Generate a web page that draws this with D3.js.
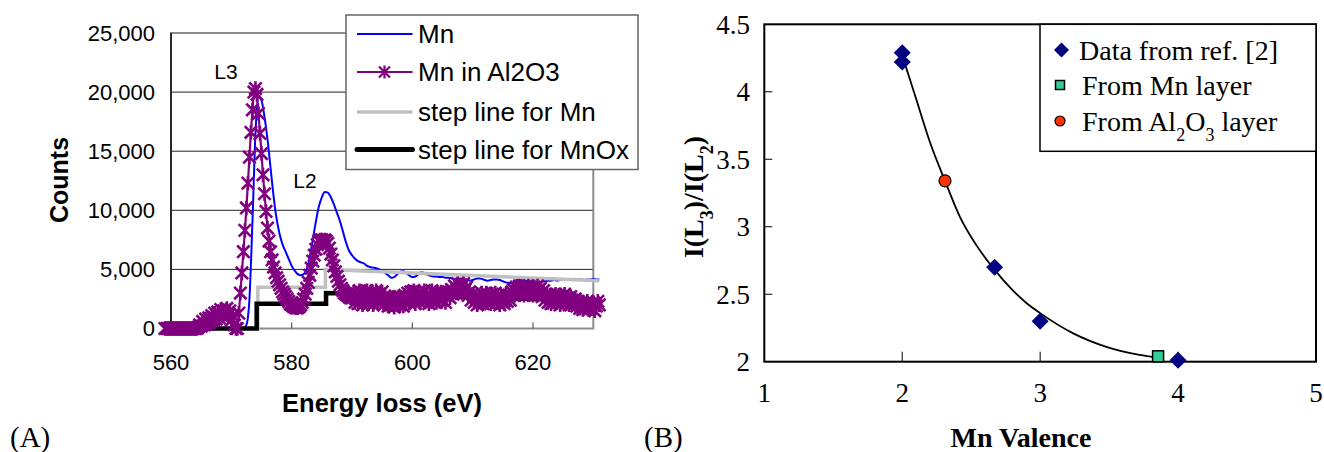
<!DOCTYPE html>
<html><head><meta charset="utf-8">
<script src="https://cdn.jsdelivr.net/npm/d3@7"></script>
<style>body{margin:0;background:#fff}svg{display:block}</style>
</head><body>
<svg id="c" width="1324" height="452"></svg>
<script>
// ---------- Panel A data ----------
const aXTicks = [560, 580, 600, 620];
const aYTicks = [0, 5000, 10000, 15000, 20000, 25000];
const mnStart = 559, mnStep = 0.5;
const mnCounts = [
 0,0, 0,0, 0,0, 0,0, 0,0, 0,0, 0,0, 0,0, 0,0, 0,0, 0,0, 0,0, 0,0,
 0,300, 2500,9000, 16500,19700, 19300,17900, 16000,13600, 11200,9300,
 8000,7100, 6500,5900, 5300,4900, 4600,4500, 4600,5000, 6000,7500,
 9000,10300, 11100,11550, 11500,11100, 10500,9800, 9100,8200, 7300,6600,
 6200,5900, 5700,5600, 5500,5300, 5200,5150, 5100,5000, 4900,4700,
 4500,4300, 4350,4600, 4800,4850, 4700,4500, 4350,4400, 4600,4750,
 4700,4550, 4450,4400, 4400,4350, 4350,4300, 4300,4250, 4200,4200,
 4150,4100, 4100,4050, 4100,4200, 4250,4200, 4100,4050, 4100,4150,
 4150,4100, 4000,3900, 3850,3800, 4000,4150, 4100,4050, 4050,4000,
 3950,3900, 3900,3950, 4000,4050, 4050,4100, 4050,4100, 4100,4150,
 4150,4150, 4200,4150, 4150,4100, 4150,4150, 4200,4150, 4150
];
const alStart = 559, alStep = 0.25;
const mnInAl2O3Counts = [
 0,0,0,0, 0,0,0,0, 0,0,0,0, 0,0,0,0, 0,0,0,0, 0,0,100,300,
 200,600,300,800, 400,900,500,1100, 700,1300,800,1400, 900,1600,1100,1500,
 1200,1700,1100,1500, 700,1100,300,0, 0,1300,3000,4700, 6500,8300,10200,12300,
 14500,16600,18500,20000, 20300,19800,18200,16500, 14800,13000,11400,9900,
 8500,7400,6500,5800, 5200,4700,4300,4000, 3700,3400,3100,2900, 2700,2500,2300,2100,
 2000,1900,1800,1750, 1750,1850,2000,2200, 2500,2900,3400,3900, 4500,5100,5700,6200,
 6700,7100,7400,7500, 7500,7400,7500,7400, 7200,6800,6300,5800, 5300,4800,4400,4000,
 3700,3400,3200,3000, 2900,2800,2700,2600,
 2600,3100,2200,2900, 2100,3200,2500,2000, 3000,2300,3200,2100, 2700,3100,2000,2800,
 3200,2200,2900,2400, 3100,2000,2700,2300, 1900,2700,2000,2600, 1800,2500,2100,2700,
 2000,2600,1900,2800, 2300,3000,2200,3100, 2400,3200,2100,2900, 3100,2200,2800,2400,
 3200,2300,2900,2100, 2800,3200,2300,3000, 2200,2900,2500,3100, 2400,3000,2200,2800,
 3100,2600,3300,2900, 3600,3000,3800,3200, 3700,3100,3800,3300, 3500,2800,3100,2400,
 2900,2200,2700,2000, 2800,2300,3000,2100, 2600,3000,2200,2800, 2100,2900,2400,3000,
 2200,2800,2000,2700, 2500,2100,2900,2300, 2800,2400,3100,3300, 2800,3500,3000,3600,
 3100,3500,2800,3400, 3000,3600,2900,3400, 2800,3500,3100,3600, 3000,3400,2700,3200,
 2400,2900,2200,2800, 2100,2700,2300,2900, 2200,2800,2000,2700, 2300,2900,2100,2600,
 2000,2700,2400,2100, 2500,1900,2300,1700, 2200,1600,2100,1800, 2300,1600,2000,1700,
 2200,1500,1900,2300, 2000
];
const stepMnE = [559, 574.4, 574.4, 585.6, 585.6, 631];
const stepMnV = [0, 0, 3500, 3500, 5000, 4050];
const stepMnOxE = [559, 574.2, 574.2, 585.7, 585.7, 631];
const stepMnOxV = [0, 0, 2100, 2100, 3000, 2350];
const aLegend = ["Mn", "Mn in Al2O3", "step line for Mn", "step line for MnOx"];

// ---------- Panel B data ----------
const bXTicks = [1, 2, 3, 4, 5];
const bYTicks = [2, 2.5, 3, 3.5, 4, 4.5];
const refValence = [2, 2, 2.67, 3, 4];
const refRatio = [4.29, 4.22, 2.70, 2.30, 2.01];
const mnLayerValence = [3.855];
const mnLayerRatio = [2.04];
const alLayerValence = [2.31];
const alLayerRatio = [3.34];
const fitValence = [2.0, 2.1, 2.2, 2.31, 2.42, 2.54, 2.67, 2.8, 2.9, 3.0, 3.24, 3.48, 3.72, 3.855];
const fitRatio = [4.27, 3.95, 3.63, 3.34, 3.07, 2.86, 2.68, 2.53, 2.435, 2.36, 2.21, 2.11, 2.05, 2.03];

const svg = d3.select("#c");
const SANS = "'Liberation Sans', Arial, sans-serif";
const SERIF = "'Liberation Serif', 'Times New Roman', serif";

// ================= Panel A =================
const xA = d3.scaleLinear().domain([560, 630]).range([171, 593.3]);
const yA = d3.scaleLinear().domain([0, 25000]).range([328.5, 33]);
const gA = svg.append("g");

gA.selectAll("line.grid").data(aYTicks.filter(d => d > 0 && d < 25000)).join("line")
  .attr("x1", xA(560)).attr("x2", xA(630)).attr("y1", d => yA(d)).attr("y2", d => yA(d))
  .attr("stroke", "#222").attr("stroke-width", 1);
gA.append("rect").attr("x", xA(560)).attr("y", yA(25000)).attr("width", xA(630) - xA(560))
  .attr("height", yA(0) - yA(25000)).attr("fill", "none").attr("stroke", "#8c8c8c").attr("stroke-width", 2);
gA.append("line").attr("x1", xA(560)).attr("x2", xA(560)).attr("y1", yA(0)).attr("y2", yA(25000))
  .attr("stroke", "#111").attr("stroke-width", 1.6);
gA.selectAll("line.xt").data(aXTicks.slice(1)).join("line")
  .attr("x1", d => xA(d)).attr("x2", d => xA(d)).attr("y1", yA(0)).attr("y2", yA(0) - 6)
  .attr("stroke", "#555").attr("stroke-width", 1.2);
gA.selectAll("text.yl").data(aYTicks).join("text")
  .attr("x", 155).attr("y", d => yA(d)).attr("dy", "0.35em").attr("text-anchor", "end")
  .attr("font-family", SANS).attr("font-size", 22).text(d3.format(","));
gA.selectAll("text.xl").data(aXTicks).join("text")
  .attr("x", d => xA(d)).attr("y", 362).attr("dy", "0.35em").attr("text-anchor", "middle")
  .attr("font-family", SANS).attr("font-size", 22).text(d => d);

const mnPts = mnCounts.map((v, i) => [mnStart + i * mnStep, v]);
const alPts = mnInAl2O3Counts.map((v, i) => [alStart + i * alStep, v]);

gA.append("path").datum(mnPts).attr("d", d3.line().x(d => xA(d[0])).y(d => yA(d[1])).curve(d3.curveMonotoneX))
  .attr("fill", "none").attr("stroke", "#0000ff").attr("stroke-width", 2);
const stepLine = d3.line().x(d => xA(d[0])).y(d => yA(d[1]));
gA.append("path").datum(stepMnE.map((e, i) => [e, stepMnV[i]])).attr("d", stepLine)
  .attr("fill", "none").attr("stroke", "#c0c0c0").attr("stroke-width", 3.5);
gA.append("path").datum(stepMnOxE.map((e, i) => [e, stepMnOxV[i]])).attr("d", stepLine)
  .attr("fill", "none").attr("stroke", "#000").attr("stroke-width", 4.5);
gA.append("path").datum(alPts).attr("d", d3.line().x(d => xA(d[0])).y(d => yA(d[1])))
  .attr("fill", "none").attr("stroke", "#800080").attr("stroke-width", 2.2);
const star = s => `M${-s},${-s}L${s},${s}M${-s},${s}L${s},${-s}M0,${-s - 1}L0,${s + 1}`;
gA.selectAll("path.mk").data(alPts).join("path")
  .attr("transform", d => `translate(${xA(d[0])},${yA(d[1])})`)
  .attr("d", star(6.2)).attr("fill", "none").attr("stroke", "#800080").attr("stroke-width", 2.6);

gA.append("text").attr("x", 226).attr("y", 72).attr("dy", "0.35em").attr("text-anchor", "middle")
  .attr("font-family", SANS).attr("font-size", 21).text("L3");
gA.append("text").attr("x", 305).attr("y", 181).attr("dy", "0.35em").attr("text-anchor", "middle")
  .attr("font-family", SANS).attr("font-size", 21).text("L2");

gA.append("text").attr("transform", "translate(59,180) rotate(-90)").attr("dy", "0.35em")
  .attr("text-anchor", "middle").attr("font-family", SANS).attr("font-weight", "bold")
  .attr("font-size", 25).text("Counts");
gA.append("text").attr("x", 382).attr("y", 403).attr("dy", "0.35em").attr("text-anchor", "middle")
  .attr("font-family", SANS).attr("font-weight", "bold").attr("font-size", 25.5).text("Energy loss (eV)");

const lgA = gA.append("g");
lgA.append("rect").attr("x", 346).attr("y", 15).attr("width", 292).attr("height", 154.5)
  .attr("fill", "#fff").attr("stroke", "#666").attr("stroke-width", 1.5);
const lgRows = [34, 72, 112, 149.5];
const lgStyle = [
  {c: "#0000ff", w: 2}, {c: "#800080", w: 2}, {c: "#c0c0c0", w: 3.5}, {c: "#000", w: 5}
];
aLegend.forEach((t, i) => {
  lgA.append("line").attr("x1", 357).attr("x2", 412.5).attr("y1", lgRows[i]).attr("y2", lgRows[i])
    .attr("stroke", lgStyle[i].c).attr("stroke-width", lgStyle[i].w).attr("stroke-linecap", i === 3 ? "round" : "butt");
  if (i === 1) lgA.append("path").attr("transform", `translate(384.5,${lgRows[i]})`).attr("d", star(5.5))
    .attr("fill", "none").attr("stroke", "#800080").attr("stroke-width", 2.2);
  lgA.append("text").attr("x", 418).attr("y", lgRows[i]).attr("dy", "0.36em")
    .attr("font-family", SANS).attr("font-size", 26).text(t);
});

svg.append("text").attr("x", 10).attr("y", 437).attr("dy", "0.35em")
  .attr("font-family", SERIF).attr("font-size", 29).text("(A)");

// ================= Panel B =================
const xB = d3.scaleLinear().domain([1, 5]).range([764.3, 1316]);
const yB = d3.scaleLinear().domain([2, 4.5]).range([361.7, 24.3]);
const gB = svg.append("g");

gB.append("rect").attr("x", xB(1)).attr("y", yB(4.5)).attr("width", xB(5) - xB(1))
  .attr("height", yB(2) - yB(4.5)).attr("fill", "none").attr("stroke", "#000").attr("stroke-width", 2);
gB.selectAll("line.bxt").data(bXTicks.slice(1, -1)).join("line")
  .attr("x1", d => xB(d)).attr("x2", d => xB(d)).attr("y1", yB(2)).attr("y2", yB(2) - 10)
  .attr("stroke", "#000").attr("stroke-width", 1);
gB.selectAll("line.byt").data(bYTicks.slice(1, -1)).join("line")
  .attr("x1", xB(1)).attr("x2", xB(1) + 8).attr("y1", d => yB(d)).attr("y2", d => yB(d))
  .attr("stroke", "#000").attr("stroke-width", 1);
gB.selectAll("text.bxl").data(bXTicks).join("text")
  .attr("x", d => xB(d)).attr("y", 393).attr("dy", "0.35em").attr("text-anchor", "middle")
  .attr("font-family", SERIF).attr("font-size", 27).text(d => d);
gB.selectAll("text.byl").data(bYTicks).join("text")
  .attr("x", 750).attr("y", d => yB(d)).attr("dy", "0.35em").attr("text-anchor", "end")
  .attr("font-family", SERIF).attr("font-size", 27).text(d => d);

const yt = gB.append("text").attr("transform", "translate(693,197) rotate(-90)").attr("dy", "0.35em")
  .attr("text-anchor", "middle").attr("font-family", SERIF).attr("font-weight", "bold").attr("font-size", 28);
yt.append("tspan").text("I(L");
yt.append("tspan").attr("baseline-shift", "sub").attr("font-size", 18).text("3");
yt.append("tspan").text(")/I(L");
yt.append("tspan").attr("baseline-shift", "sub").attr("font-size", 18).text("2");
yt.append("tspan").text(")");
gB.append("text").attr("x", 1021).attr("y", 437).attr("dy", "0.35em").attr("text-anchor", "middle")
  .attr("font-family", SERIF).attr("font-weight", "bold").attr("font-size", 28).text("Mn Valence");

gB.append("path").datum(fitValence.map((v, i) => [v, fitRatio[i]]))
  .attr("d", d3.line().x(d => xB(d[0])).y(d => yB(d[1])).curve(d3.curveMonotoneX))
  .attr("fill", "none").attr("stroke", "#000").attr("stroke-width", 1.8);

const diamond = s => `M0,${-s}L${s},0L0,${s}L${-s},0Z`;
gB.selectAll("path.ref").data(refValence.map((v, i) => [v, refRatio[i]])).join("path")
  .attr("transform", d => `translate(${xB(d[0])},${yB(d[1])})`).attr("d", diamond(8.5)).attr("fill", "#000080");
gB.selectAll("rect.mnl").data(mnLayerValence.map((v, i) => [v, mnLayerRatio[i]])).join("rect")
  .attr("x", d => xB(d[0]) - 5.5).attr("y", d => yB(d[1]) - 5.5).attr("width", 11).attr("height", 11)
  .attr("fill", "#33cc99").attr("stroke", "#000").attr("stroke-width", 1.5);
gB.selectAll("circle.all").data(alLayerValence.map((v, i) => [v, alLayerRatio[i]])).join("circle")
  .attr("cx", d => xB(d[0])).attr("cy", d => yB(d[1])).attr("r", 6)
  .attr("fill", "#ff3300").attr("stroke", "#000").attr("stroke-width", 1.2);

const lgB = gB.append("g");
lgB.append("rect").attr("x", 1040).attr("y", yB(4.5)).attr("width", xB(5) - 1040).attr("height", 127)
  .attr("fill", "#fff").attr("stroke", "#000").attr("stroke-width", 1.5);
lgB.append("path").attr("transform", "translate(1061.5,50)").attr("d", diamond(7.5)).attr("fill", "#000080");
lgB.append("rect").attr("x", 1055.5).attr("y", 80.5).attr("width", 9).attr("height", 9)
  .attr("fill", "#33cc99").attr("stroke", "#000").attr("stroke-width", 1.5);
lgB.append("circle").attr("cx", 1060).attr("cy", 121).attr("r", 5)
  .attr("fill", "#ff3300").attr("stroke", "#000").attr("stroke-width", 1.2);
lgB.append("text").attr("x", 1079).attr("y", 50).attr("dy", "0.35em")
  .attr("font-family", SERIF).attr("font-size", 28).text("Data from ref. [2]");
lgB.append("text").attr("x", 1082).attr("y", 85).attr("dy", "0.35em")
  .attr("font-family", SERIF).attr("font-size", 28).text("From Mn layer");
const t3 = lgB.append("text").attr("x", 1082).attr("y", 121).attr("dy", "0.35em")
  .attr("font-family", SERIF).attr("font-size", 28);
t3.append("tspan").text("From Al");
t3.append("tspan").attr("baseline-shift", "sub").attr("font-size", 18).text("2");
t3.append("tspan").text("O");
t3.append("tspan").attr("baseline-shift", "sub").attr("font-size", 18).text("3");
t3.append("tspan").text(" layer");

svg.append("text").attr("x", 644).attr("y", 437).attr("dy", "0.35em")
  .attr("font-family", SERIF).attr("font-size", 29).text("(B)");
</script>
</body></html>
